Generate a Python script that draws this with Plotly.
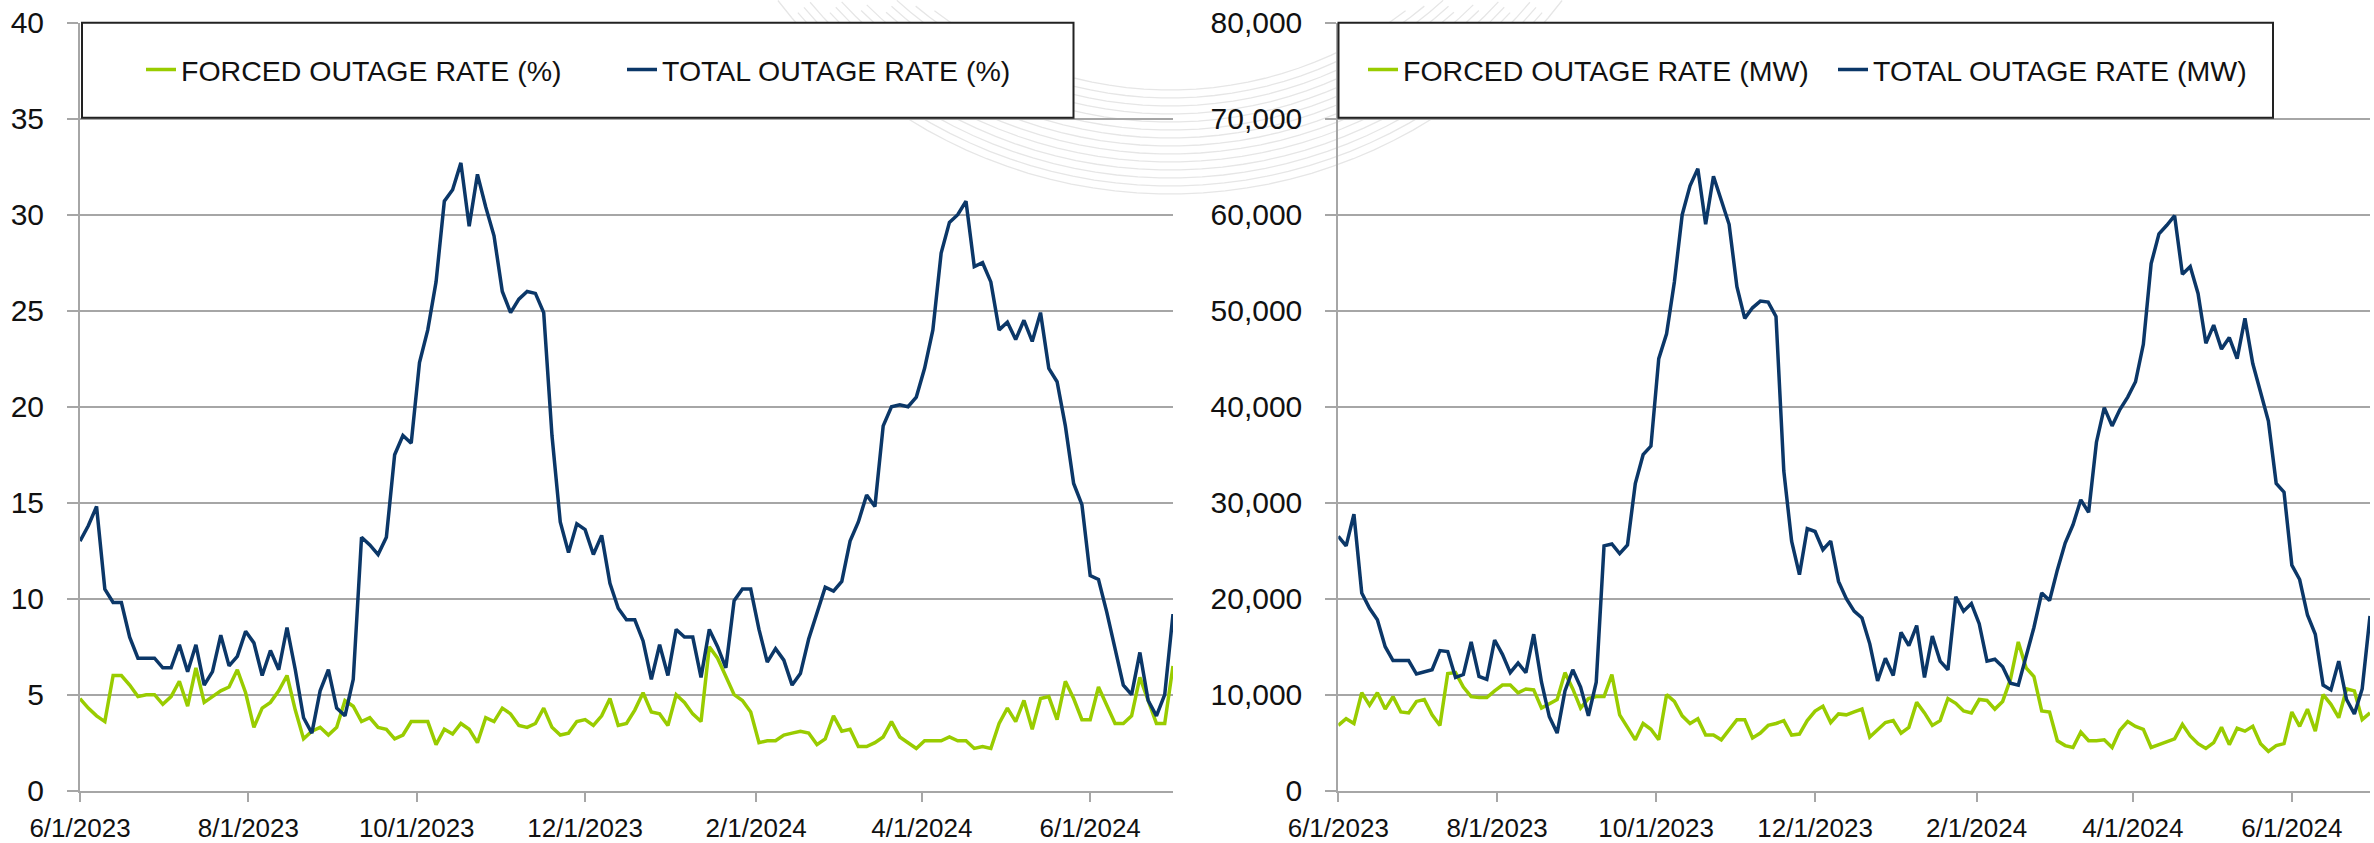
import numpy as np
import pandas as pd
import plotly.graph_objects as go

# readings every 3 days, 6/1/2023 .. 7/1/2024
dates = pd.date_range("2023-06-01", "2024-07-01", freq="3D")

forced_pct = [
    4.8, 4.3, 3.9, 3.6, 6.0, 6.0, 5.5, 4.9, 5.0, 5.0, 4.5, 4.9, 5.7, 4.4, 6.4,
    4.6, 4.9, 5.2, 5.4, 6.3, 5.1, 3.3, 4.3, 4.6, 5.2, 6.0, 4.2, 2.7, 3.1, 3.3,
    2.9, 3.3, 4.7, 4.4, 3.6, 3.8, 3.3, 3.2, 2.7, 2.9, 3.6, 3.6, 3.6, 2.4, 3.2,
    2.95, 3.5, 3.2, 2.5, 3.8, 3.6, 4.3, 4.0, 3.4, 3.3, 3.5, 4.3, 3.3, 2.9, 3.0,
    3.6, 3.7, 3.4, 3.9, 4.8, 3.4, 3.5, 4.2, 5.1, 4.1, 4.0, 3.4, 5.0, 4.6, 4.0,
    3.6, 7.5, 6.9, 6.0, 5.0, 4.7, 4.1, 2.5, 2.6, 2.6, 2.9, 3.0, 3.1, 3.0, 2.4,
    2.7, 3.9, 3.1, 3.2, 2.3, 2.3, 2.5, 2.8, 3.6, 2.8, 2.5, 2.2, 2.6, 2.6, 2.6,
    2.8, 2.6, 2.6, 2.2, 2.3, 2.2, 3.5, 4.3, 3.6, 4.7, 3.2, 4.8, 4.9, 3.7, 5.7,
    4.8, 3.7, 3.7, 5.4, 4.5, 3.5, 3.5, 3.9, 5.9, 4.7, 3.5, 3.5, 6.5,
]
total_pct = [
    13.0, 13.8, 14.8, 10.5, 9.8, 9.8, 8.0, 6.9, 6.9, 6.9, 6.4, 6.4, 7.6, 6.2, 7.6,
    5.5, 6.2, 8.1, 6.5, 7.0, 8.3, 7.7, 6.0, 7.3, 6.3, 8.5, 6.3, 3.8, 3.0, 5.2,
    6.3, 4.3, 3.9, 5.8, 13.2, 12.8, 12.3, 13.2, 17.5, 18.5, 18.1, 22.3, 24.0, 26.5, 30.7,
    31.3, 32.7, 29.4, 32.1, 30.4, 28.9, 26.0, 24.9, 25.6, 26.0, 25.9, 24.9, 18.5, 14.0, 12.4,
    13.9, 13.6, 12.3, 13.3, 10.8, 9.5, 8.9, 8.9, 7.8, 5.8, 7.6, 6.0, 8.4, 8.0, 8.0,
    5.9, 8.4, 7.5, 6.4, 9.9, 10.5, 10.5, 8.4, 6.7, 7.4, 6.8, 5.5, 6.1, 7.9, 9.2,
    10.6, 10.4, 10.9, 13.0, 14.0, 15.4, 14.8, 19.0, 20.0, 20.1, 20.0, 20.5, 22.0, 24.0, 28.0,
    29.6, 30.0, 30.7, 27.3, 27.5, 26.5, 24.0, 24.4, 23.5, 24.5, 23.4, 24.9, 22.0, 21.3, 19.0,
    16.0, 14.9, 11.2, 11.0, 9.3, 7.4, 5.5, 5.0, 7.2, 4.7, 3.9, 5.0, 9.2,
]
forced_mw = [
    6800, 7500, 7000, 10200, 8900, 10200, 8500, 9800, 8200, 8100, 9300, 9500, 7900, 6800, 12200,
    12300, 10800, 9800, 9700, 9700, 10400, 11000, 11000, 10200, 10600, 10500, 8600, 9000, 9500, 12300,
    10600, 8600, 9600, 9800, 9800, 12100, 7900, 6600, 5300, 7000, 6400, 5300, 10000, 9300, 7800,
    7000, 7500, 5800, 5800, 5300, 6400, 7400, 7400, 5500, 6000, 6800, 7000, 7300, 5800, 5900,
    7300, 8300, 8800, 7100, 8000, 7900, 8200, 8500, 5600, 6300, 7100, 7300, 6000, 6600, 9200,
    8100, 6800, 7300, 9600, 9100, 8300, 8100, 9500, 9400, 8500, 9300, 11600, 15500, 12800, 11900,
    8300, 8200, 5200, 4700, 4500, 6100, 5200, 5200, 5300, 4500, 6300, 7200, 6700, 6400, 4500,
    4800, 5100, 5400, 6900, 5700, 4900, 4400, 5000, 6600, 4800, 6500, 6200, 6700, 4900, 4100,
    4700, 4900, 8200, 6700, 8500, 6200, 10000, 9000, 7600, 10600, 10400, 7400, 8100,
]
total_mw = [
    26500, 25500, 28800, 20600, 19000, 17800, 15000, 13550, 13550, 13550, 12150, 12350, 12600, 14600, 14500,
    11800, 12100, 15500, 11900, 11600, 15700, 14200, 12300, 13300, 12300, 16300, 11300, 7700, 6000, 10400,
    12600, 10800, 7800, 11300, 25500, 25700, 24700, 25600, 32000, 35000, 35900, 45000, 47600, 53000, 60000,
    63000, 64800, 59000, 64000, 61500, 59000, 52500, 49200, 50300, 51000, 50900, 49400, 33300, 26000, 22500,
    27300, 27000, 25100, 26000, 21800, 20000, 18700, 18000, 15300, 11440, 13800, 12000, 16500, 15100, 17200,
    11800, 16100, 13500, 12600, 20200, 18700, 19500, 17400, 13500, 13700, 12900, 11200, 11000, 14000, 17000,
    20600, 19800, 23000, 25800, 27700, 30300, 29000, 36300, 39900, 38000, 39700, 41000, 42600, 46500, 54900,
    58000, 58900, 59900, 53800, 54600, 51800, 46600, 48500, 46000, 47200, 45000, 49200, 44500, 41500, 38500,
    32000, 31100, 23500, 22000, 18300, 16300, 11000, 10500, 13500, 9500, 8000, 10600, 18200,
]

GREEN = "#99CC00"
NAVY = "#0B3768"
GRID = "#A6A6A6"
W, H = 2374, 843

fig = go.Figure()
fig.add_trace(go.Scatter(x=dates, y=forced_pct, mode="lines", name="FORCED OUTAGE RATE (%)",
                         line=dict(color=GREEN, width=3.5), xaxis="x", yaxis="y", legend="legend"))
fig.add_trace(go.Scatter(x=dates, y=total_pct, mode="lines", name="TOTAL OUTAGE RATE (%)",
                         line=dict(color=NAVY, width=3.5), xaxis="x", yaxis="y", legend="legend2"))
fig.add_trace(go.Scatter(x=dates, y=forced_mw, mode="lines", name="FORCED OUTAGE RATE (MW)",
                         line=dict(color=GREEN, width=3.5), xaxis="x2", yaxis="y2", legend="legend3"))
fig.add_trace(go.Scatter(x=dates, y=total_mw, mode="lines", name="TOTAL OUTAGE RATE (MW)",
                         line=dict(color=NAVY, width=3.5), xaxis="x2", yaxis="y2", legend="legend4"))

tick_font = dict(family="Liberation Sans, Arial, sans-serif", size=30, color="#111111")
date_font = dict(family="Liberation Sans, Arial, sans-serif", size=26, color="#111111")
leg_font = dict(family="Liberation Sans, Arial, sans-serif", size=28.5, color="#111111")

xcommon = dict(type="date", range=["2023-06-01", "2024-07-01"], tick0="2023-06-01", dtick="M2",
               tickformat="%-m/%-d/%Y", showgrid=False, showline=True, linecolor=GRID, linewidth=2,
               ticks="outside", ticklen=9, tickcolor=GRID, tickwidth=2, tickfont=date_font,
               ticklabelstandoff=4, zeroline=False, automargin=False)
ycommon = dict(showgrid=True, gridcolor=GRID, gridwidth=1.5, showline=True, linecolor=GRID, linewidth=2,
               ticks="outside", ticklen=11, tickcolor=GRID, tickwidth=2, tickfont=tick_font,
               ticklabelstandoff=17, zeroline=False, automargin=False, domain=[1 - 790.7 / H, 1 - 22.7 / H])

fig.update_layout(
    width=W, height=H,
    margin=dict(l=0, r=0, t=0, b=0),
    paper_bgcolor="white", plot_bgcolor="white",
    xaxis=dict(domain=[80 / W, 1173 / W], anchor="y", **xcommon),
    xaxis2=dict(domain=[1338.3 / W, 2370 / W], anchor="y2", **xcommon),
    yaxis=dict(range=[0, 40], dtick=5, anchor="x", **ycommon),
    yaxis2=dict(range=[0, 80000], dtick=10000, tickformat=",d", anchor="x2", **ycommon),
    showlegend=True,
)

# one legend per entry so each sits where it does in the source
leg_pos = {"legend": 141, "legend2": 622, "legend3": 1363, "legend4": 1833}
for key, px in leg_pos.items():
    fig.update_layout({key: dict(x=px / W, y=1 - 70 / H, xanchor="left", yanchor="middle",
                                 orientation="h", font=leg_font, bgcolor="rgba(0,0,0,0)",
                                 borderwidth=0)})

# faint background watermark (concentric arcs behind the grid)
cx, cy = 1170, -300
for r in np.arange(390, 500, 8):
    t = np.linspace(np.pi * 0.08, np.pi * 0.92, 60)
    px_ = cx + r * np.cos(t)
    py_ = cy + r * np.sin(t)
    keep = py_ >= 0
    pts = [(a / W, 1 - b / H) for a, b in zip(px_[keep], py_[keep])]
    if len(pts) < 2:
        continue
    path = "M" + " L".join(f"{a:.5f},{b:.5f}" for a, b in pts)
    fig.add_shape(type="path", path=path, xref="paper", yref="paper",
                  line=dict(color="#E6E6E6", width=1.3), layer="below")

# framed legend boxes
for x0, x1 in [(82, 1073.5), (1338.5, 2273)]:
    fig.add_shape(type="rect", xref="paper", yref="paper",
                  x0=x0 / W, x1=x1 / W, y0=1 - 117.7 / H, y1=1 - 22.7 / H,
                  line=dict(color="#222222", width=2), fillcolor="white", layer="above")

fig.write_html("out.html", config={"displayModeBar": False},
               post_script="document.body.style.margin='0';")
